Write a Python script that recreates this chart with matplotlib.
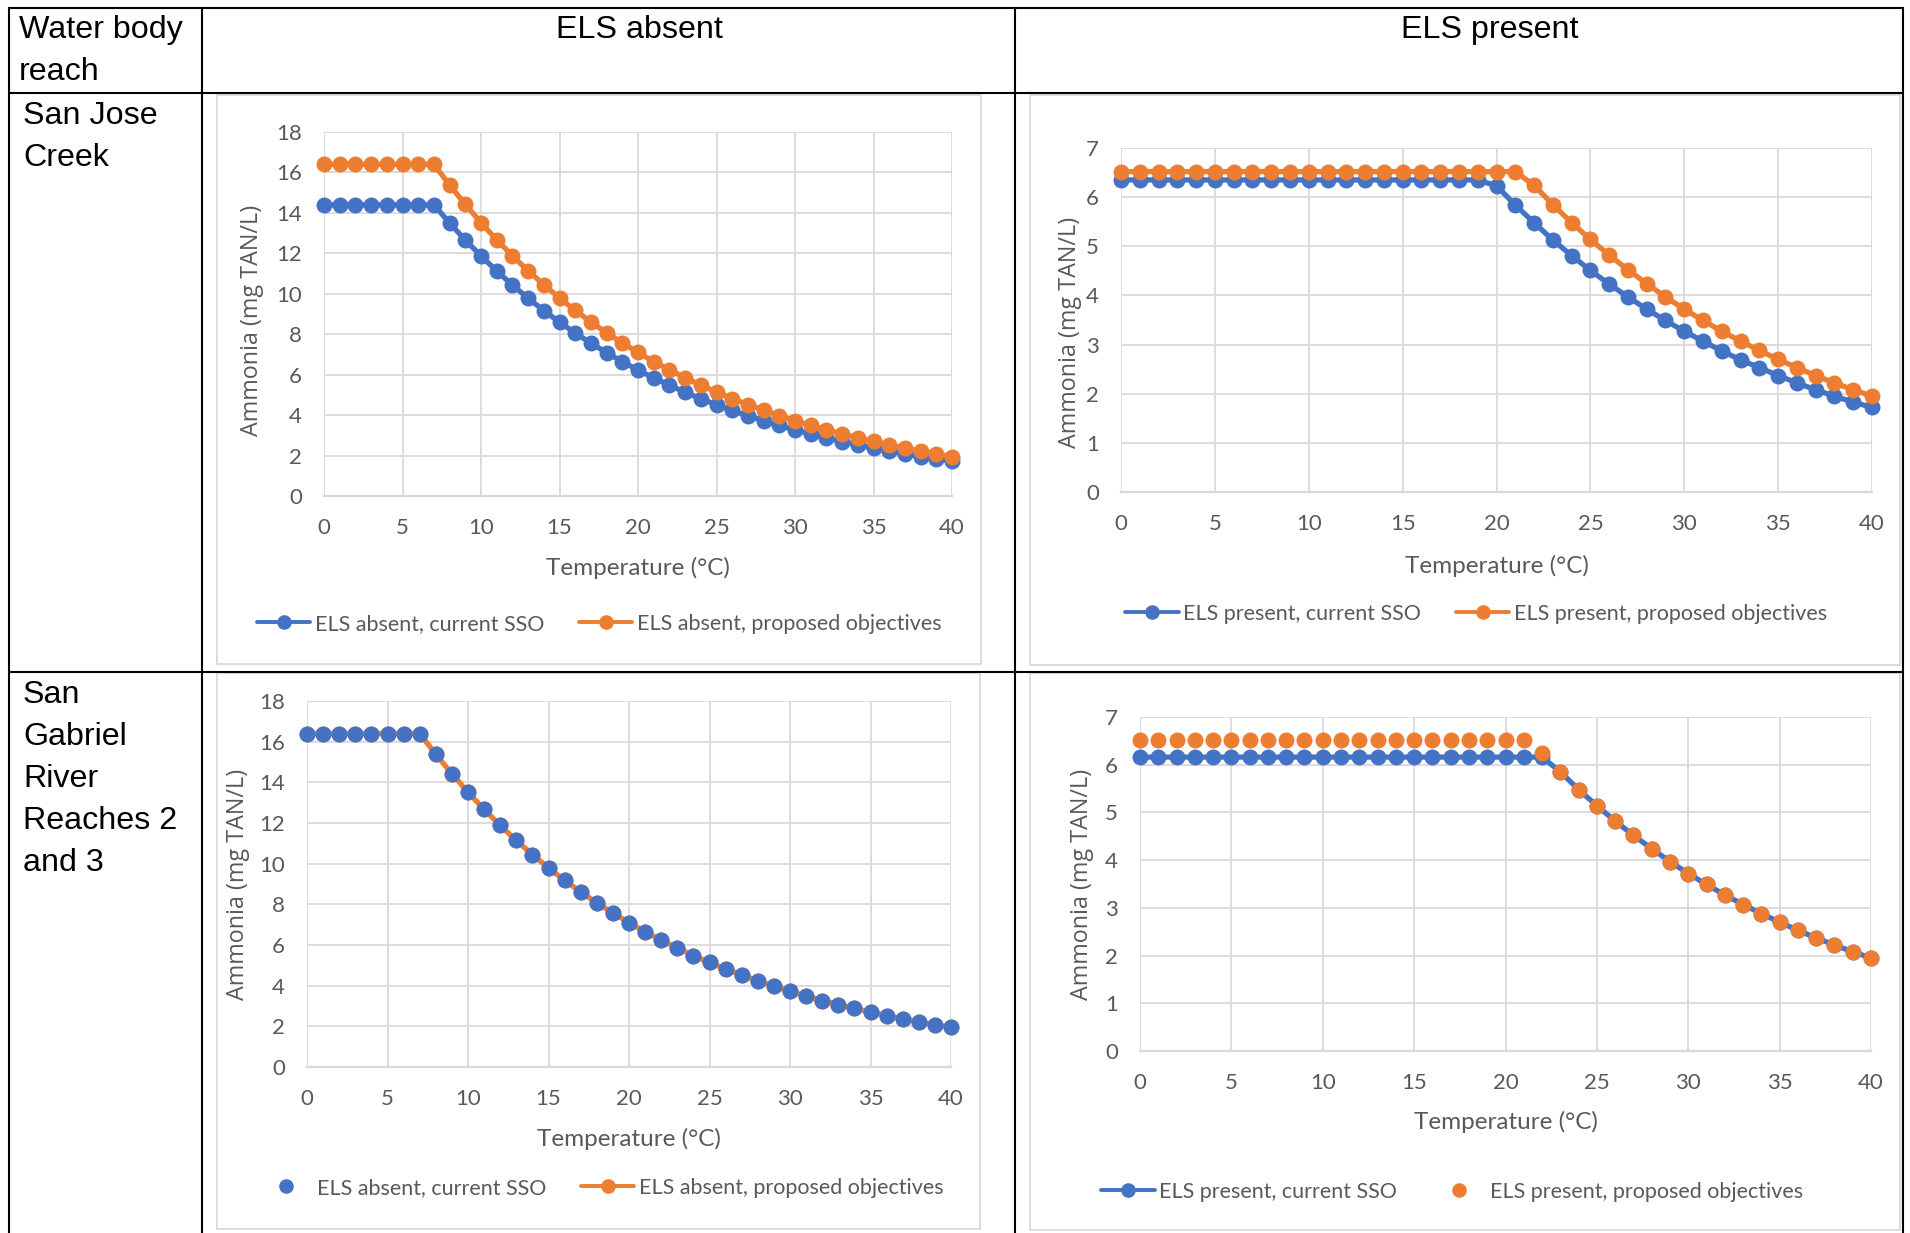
import matplotlib
matplotlib.use("Agg")
import matplotlib.pyplot as plt
from matplotlib.lines import Line2D
from matplotlib.patches import Rectangle

# ---------------------------------------------------------------- data
temperature = list(range(41))  # deg C, 0..40

# San Jose Creek
sjc_absent_current = [14.40, 14.40, 14.40, 14.40, 14.40, 14.40, 14.40, 14.40,
                      13.50, 12.66, 11.87, 11.13, 10.43, 9.78, 9.17, 8.60, 8.06,
                      7.56, 7.09, 6.64, 6.23, 5.84, 5.48, 5.13, 4.81, 4.51, 4.23,
                      3.97, 3.72, 3.49, 3.27, 3.07, 2.87, 2.69, 2.53, 2.37, 2.22,
                      2.08, 1.95, 1.83, 1.72]
sjc_absent_proposed = [16.40, 16.40, 16.40, 16.40, 16.40, 16.40, 16.40, 16.40,
                       15.38, 14.42, 13.52, 12.67, 11.88, 11.14, 10.45, 9.79, 9.18,
                       8.61, 8.07, 7.57, 7.10, 6.65, 6.24, 5.85, 5.48, 5.14, 4.82,
                       4.52, 4.24, 3.97, 3.72, 3.49, 3.27, 3.07, 2.88, 2.70, 2.53,
                       2.37, 2.22, 2.08, 1.95]
sjc_present_current = [6.35, 6.35, 6.35, 6.35, 6.35, 6.35, 6.35, 6.35, 6.35, 6.35,
                       6.35, 6.35, 6.35, 6.35, 6.35, 6.35, 6.35, 6.35, 6.35, 6.35,
                       6.23, 5.84, 5.48, 5.13, 4.81, 4.51, 4.23, 3.97, 3.72, 3.49,
                       3.27, 3.07, 2.87, 2.69, 2.53, 2.37, 2.22, 2.08, 1.95, 1.83,
                       1.72]
sjc_present_proposed = [6.52, 6.52, 6.52, 6.52, 6.52, 6.52, 6.52, 6.52, 6.52, 6.52,
                        6.52, 6.52, 6.52, 6.52, 6.52, 6.52, 6.52, 6.52, 6.52, 6.52,
                        6.52, 6.52, 6.24, 5.85, 5.48, 5.14, 4.82, 4.52, 4.24, 3.97,
                        3.72, 3.49, 3.27, 3.07, 2.88, 2.70, 2.53, 2.37, 2.22, 2.08,
                        1.95]

# San Gabriel River Reaches 2 and 3
sgr_absent_current = [16.40, 16.40, 16.40, 16.40, 16.40, 16.40, 16.40, 16.40,
                      15.38, 14.42, 13.52, 12.67, 11.88, 11.14, 10.45, 9.79, 9.18,
                      8.61, 8.07, 7.57, 7.10, 6.65, 6.24, 5.85, 5.48, 5.14, 4.82,
                      4.52, 4.24, 3.97, 3.72, 3.49, 3.27, 3.07, 2.88, 2.70, 2.53,
                      2.37, 2.22, 2.08, 1.95]
sgr_absent_proposed = [16.40, 16.40, 16.40, 16.40, 16.40, 16.40, 16.40, 16.40,
                       15.38, 14.42, 13.52, 12.67, 11.88, 11.14, 10.45, 9.79, 9.18,
                       8.61, 8.07, 7.57, 7.10, 6.65, 6.24, 5.85, 5.48, 5.14, 4.82,
                       4.52, 4.24, 3.97, 3.72, 3.49, 3.27, 3.07, 2.88, 2.70, 2.53,
                       2.37, 2.22, 2.08, 1.95]
sgr_present_current = [6.16, 6.16, 6.16, 6.16, 6.16, 6.16, 6.16, 6.16, 6.16, 6.16,
                       6.16, 6.16, 6.16, 6.16, 6.16, 6.16, 6.16, 6.16, 6.16, 6.16,
                       6.16, 6.16, 6.16, 5.85, 5.48, 5.14, 4.82, 4.52, 4.24, 3.97,
                       3.72, 3.49, 3.27, 3.07, 2.88, 2.70, 2.53, 2.37, 2.22, 2.08,
                       1.95]
sgr_present_proposed = [6.52, 6.52, 6.52, 6.52, 6.52, 6.52, 6.52, 6.52, 6.52, 6.52,
                        6.52, 6.52, 6.52, 6.52, 6.52, 6.52, 6.52, 6.52, 6.52, 6.52,
                        6.52, 6.52, 6.24, 5.85, 5.48, 5.14, 4.82, 4.52, 4.24, 3.97,
                        3.72, 3.49, 3.27, 3.07, 2.88, 2.70, 2.53, 2.37, 2.22, 2.08,
                        1.95]

x_ticks = [0, 5, 10, 15, 20, 25, 30, 35, 40]
absent_y_ticks = [0, 2, 4, 6, 8, 10, 12, 14, 16, 18]
present_y_ticks = [0, 1, 2, 3, 4, 5, 6, 7]

header_left = ["Water body", "reach"]
column_titles = ["ELS absent", "ELS present"]
row_titles = [["San Jose", "Creek"],
              ["San", "Gabriel", "River", "Reaches 2", "and 3"]]

x_title = "Temperature (°C)"
y_title = "Ammonia (mg TAN/L)"

# ---------------------------------------------------------------- style
BLUE = "#4472C4"
ORANGE = "#ED7D31"
GRID = "#D9D9D9"
TEXT_GRAY = "#595959"
W, H = 1910, 1233

TICK_FONT = "Lato"
YT_FONT = "Open Sans"
TABLE_FONT = "Liberation Sans"

fig = plt.figure(figsize=(W / 100, H / 100), dpi=100)
fig.patch.set_facecolor("white")

# page-level canvas in pixel units for the table frame and cell text
page = fig.add_axes([0, 0, 1, 1])
page.set_xlim(0, W)
page.set_ylim(H, 0)
page.axis("off")

# table rules
rule = dict(color="black", lw=1.5, solid_capstyle="butt")
for yy in (7.5, 93, 671.5):
    page.plot([8, 1903], [yy, yy], **rule)
for xx in (9, 202, 1015, 1903):
    page.plot([xx, xx], [6.8, H], **rule)

# table text
tkw = dict(fontsize=23.2, family=TABLE_FONT, color="black", va="baseline")
page.text(19, 38, header_left[0], ha="left", **tkw)
page.text(19, 80, header_left[1], ha="left", **tkw)
page.text(639, 38, column_titles[0], ha="center", **tkw)
page.text(1490, 38, column_titles[1], ha="center", **tkw)
for i, line in enumerate(row_titles[0]):
    page.text(23, 123.5 + 42.3 * i, line, ha="left", **tkw)
for i, line in enumerate(row_titles[1]):
    page.text(23, 703 + 42 * i, line, ha="left", **tkw)


def chart(frame, plot, series, yticks, ylab_xy, xlab_y, leg_xy):
    """frame/plot are (left, top, right, bottom) in pixels."""
    fl, ft, fr, fb = frame
    page.add_patch(Rectangle((fl, ft), fr - fl, fb - ft, fill=False,
                             edgecolor=GRID, lw=1.3))
    l, t, r, b = plot
    ax = fig.add_axes([l / W, 1 - b / H, (r - l) / W, (b - t) / H])
    ax.set_facecolor("none")
    handles = []
    for s in series:
        kw = dict(color=s["color"], marker="o", markersize=11.5,
                  markeredgewidth=0, clip_on=False, zorder=s["z"])
        hkw = dict(color=s["color"], marker="o", markersize=10.5,
                   markeredgewidth=0)
        if s["line"]:
            kw.update(lw=3.8, solid_capstyle="round")
            hkw.update(lw=2.8, solid_capstyle="round")
        else:
            kw.update(ls="none")
            hkw.update(ls="none")
        ax.plot(temperature, s["y"], **kw)
        handles.append(Line2D([], [], **hkw))
    ax.set_xlim(0, 40)
    ax.set_ylim(yticks[0], yticks[-1])
    ax.set_xticks(x_ticks)
    ax.set_yticks(yticks)
    ax.grid(True, color=GRID, lw=1.3)
    ax.set_axisbelow(True)
    for side in ("top", "right", "left"):
        ax.spines[side].set_visible(False)
    ax.spines["bottom"].set_color(GRID)
    ax.spines["bottom"].set_linewidth(1.6)
    ax.tick_params(axis="x", length=0, pad=16, labelsize=16,
                   labelcolor=TEXT_GRAY)
    ax.tick_params(axis="y", length=0, pad=16, labelsize=16,
                   labelcolor=TEXT_GRAY)
    for lab in ax.get_xticklabels() + ax.get_yticklabels():
        lab.set_family(TICK_FONT)

    ax.set_xlabel(x_title, fontsize=17.5, family=TICK_FONT, color=TEXT_GRAY)
    ax.xaxis.set_label_coords(0.5, (b - xlab_y) / (b - t))
    ax.xaxis.label.set_va("center")
    ax.set_ylabel(y_title, fontsize=16.8, family=YT_FONT, color=TEXT_GRAY)
    yx, yy = ylab_xy
    ax.yaxis.set_label_coords((yx - l) / (r - l), (b - yy) / (b - t))
    ax.yaxis.label.set_va("center")

    lx, ly = leg_xy
    ax.legend(handles, [s["label"] for s in series], loc="center",
              bbox_to_anchor=((lx - l) / (r - l), (b - ly) / (b - t)),
              ncol=2, frameon=False, borderpad=0, handlelength=2.5,
              handletextpad=0.2, columnspacing=1.6,
              prop={"family": TICK_FONT, "size": 15.5}, labelcolor=TEXT_GRAY)
    return ax


chart((217, 95, 981, 664), (324, 132, 952, 496),
      [dict(y=sjc_absent_current, color=BLUE, line=True, z=3,
            label="ELS absent, current SSO"),
       dict(y=sjc_absent_proposed, color=ORANGE, line=True, z=4,
            label="ELS absent, proposed objectives")],
      absent_y_ticks, (252, 320), 568, (599, 624))

chart((1030, 95, 1900, 665), (1121, 148, 1872, 492),
      [dict(y=sjc_present_current, color=BLUE, line=True, z=3,
            label="ELS present, current SSO"),
       dict(y=sjc_present_proposed, color=ORANGE, line=True, z=4,
            label="ELS present, proposed objectives")],
      present_y_ticks, (1070, 332), 566, (1476, 614))

chart((217, 673, 980, 1229), (307, 701, 951, 1067),
      [dict(y=sgr_absent_current, color=BLUE, line=False, z=4,
            label="ELS absent, current SSO"),
       dict(y=sgr_absent_proposed, color=ORANGE, line=True, z=3,
            label="ELS absent, proposed objectives")],
      absent_y_ticks, (238, 884), 1139, (601, 1188))

chart((1030, 673, 1900, 1230), (1140, 717, 1871, 1051),
      [dict(y=sgr_present_current, color=BLUE, line=True, z=3,
            label="ELS present, current SSO"),
       dict(y=sgr_present_proposed, color=ORANGE, line=False, z=4,
            label="ELS present, proposed objectives")],
      present_y_ticks, (1082, 884), 1122, (1452, 1192))

fig.savefig("out.png", dpi=100, facecolor="white")
